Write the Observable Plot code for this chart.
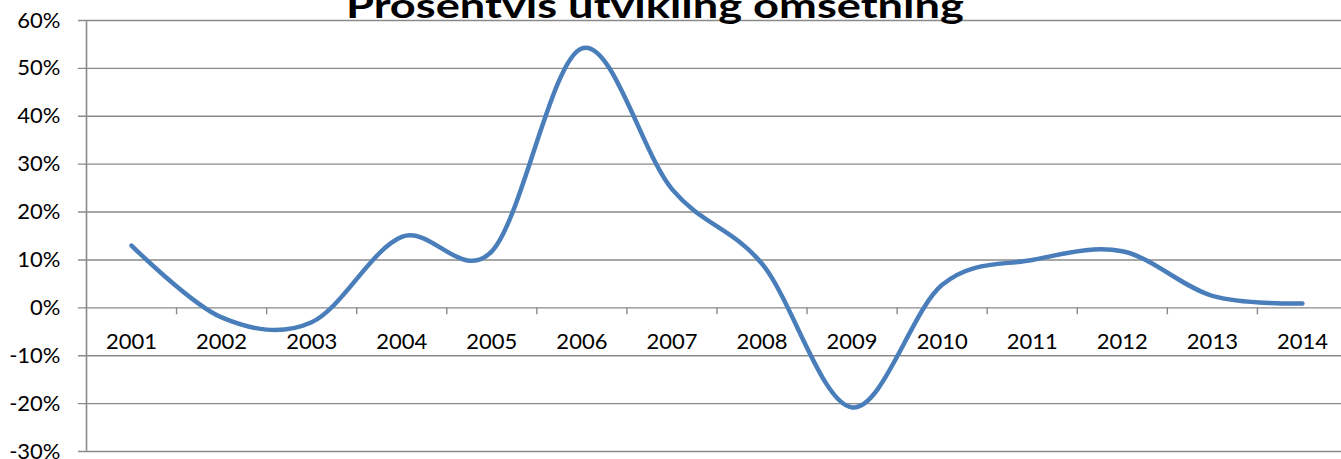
<!DOCTYPE html>
<html>
<head>
<meta charset="utf-8">
<script src="https://cdn.jsdelivr.net/npm/d3@7"></script>
<script src="https://cdn.jsdelivr.net/npm/@observablehq/plot@0.6"></script>
<style>
  html, body { margin: 0; padding: 0; background: #fff; overflow: hidden; }
  #chart { position: relative; width: 1341px; height: 459px; }
</style>
</head>
<body>
<div id="chart"></div>
<script>
const title = "Prosentvis utvikling omsetning";
const years = ["2001","2002","2003","2004","2005","2006","2007","2008","2009","2010","2011","2012","2013","2014"];
const values = [13, -2, -3, 14.8, 11.8, 54.2, 24.8, 9.2, -20.8, 4.8, 10, 11.8, 2.5, 0.9];
const yTicks = [-30, -20, -10, 0, 10, 20, 30, 40, 50, 60];

const data = years.map((yr, i) => ({year: yr, idx: i + 0.5, value: values[i]}));
const boundaries = d3.range(1, years.length);

const W = 1341, H = 459;
const mL = 86, mT = 20, mB = 8;
const band = 90.07;
const xMax = (W - mL) / band;

const grid = "#8a8a8a";
const font = "Lato, 'Open Sans', sans-serif";

const plot = Plot.plot({
  width: W,
  height: H,
  marginLeft: mL,
  marginRight: 0,
  marginTop: mT,
  marginBottom: mB,
  style: {fontFamily: font, background: "#fff", color: "#000"},
  x: {domain: [0, xMax], axis: null},
  y: {domain: [-30, 60], axis: null},
  marks: [
    Plot.ruleY(yTicks, {stroke: grid, strokeWidth: 1.4, insetLeft: -8}),
    Plot.ruleX([0], {stroke: grid, strokeWidth: 1.6}),
    Plot.ruleX(boundaries, {x: d => d, y1: 0, y2: 0, insetBottom: -7, stroke: grid, strokeWidth: 1.4}),
    Plot.text(yTicks, {
      x: 0, y: d => d, text: d => d + "%",
      textAnchor: "end", dx: -26, fontSize: 22, fill: "#000"
    }),
    Plot.text(data, {
      x: "idx", y: 0, text: "year",
      dy: 34, fontSize: 22, fill: "#000"
    }),
    Plot.line(data, {
      x: "idx", y: "value", curve: "cardinal",
      stroke: "#4a7ebb", strokeWidth: 4.5, strokeLinecap: "round", strokeLinejoin: "round"
    })
  ]
});

document.getElementById("chart").appendChild(plot);

const svg = d3.select(plot);
svg.append("text")
  .attr("x", 655)
  .attr("y", 18)
  .attr("text-anchor", "middle")
  .attr("font-family", font)
  .attr("font-weight", "bold")
  .attr("font-size", 34)
  .attr("fill", "#000")
  .attr("textLength", 618)
  .attr("lengthAdjust", "spacingAndGlyphs")
  .text(title);
</script>
</body>
</html>
